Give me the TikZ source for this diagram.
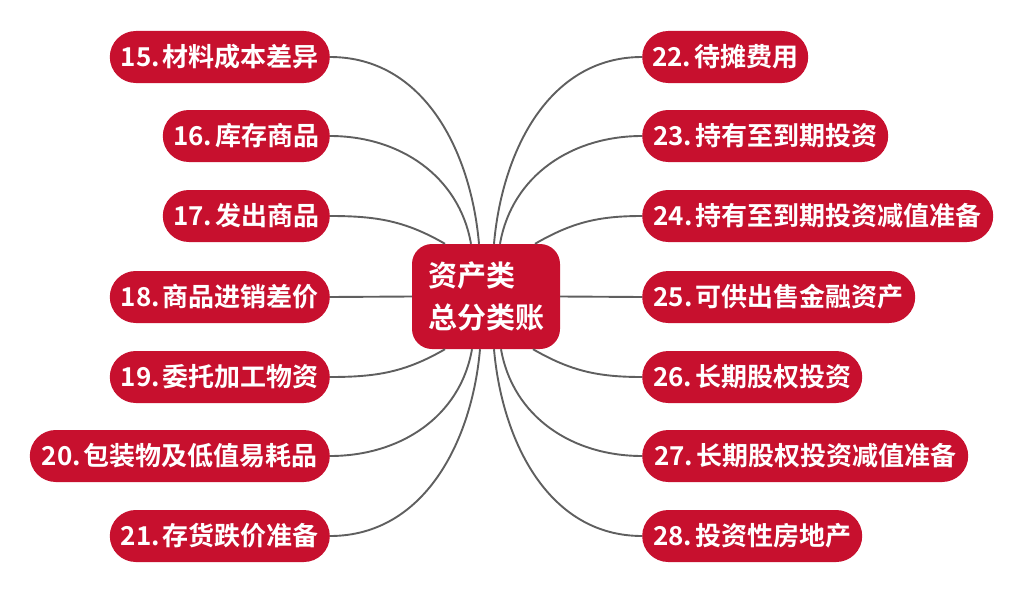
\documentclass[tikz,border=0pt]{standalone}
\usepackage{fontspec}
\newfontfamily\cjk{Noto Sans CJK SC}[BoldFont={Noto Sans CJK SC Bold}]
\definecolor{boxred}{RGB}{199,16,46}
\definecolor{linegray}{RGB}{95,95,95}
\begin{document}
\begin{tikzpicture}[x=1pt,y=-1pt,
  leaf/.style={fill=boxred, rounded corners=26pt, minimum height=52pt, inner sep=0pt,
    text=white, font=\cjk\bfseries\fontsize{26pt}{30pt}\selectfont},
  lleaf/.style={leaf, anchor=east},
  rleaf/.style={leaf, anchor=west},
  hub/.style={fill=boxred, rounded corners=20pt, minimum width=148pt, minimum height=105pt,
    text=white, align=left, inner sep=0pt, font=\cjk\bfseries\fontsize{29pt}{42pt}\selectfont},
  conn/.style={draw=linegray, line width=1.9pt}
]
\useasboundingbox (0,0) rectangle (1025,594);
\node[hub] (hub) at (486,296.5) {资产类\phantom{账}\\总分类账};

\node[lleaf, minimum width=220pt] (n15) at (330,57) {15.\hspace{3pt}材料成本差异};
\node[lleaf, minimum width=167pt] (n16) at (330,136) {16.\hspace{3pt}库存商品};
\node[lleaf, minimum width=167pt] (n17) at (330,216) {17.\hspace{3pt}发出商品};
\node[lleaf, minimum width=220pt] (n18) at (330,297) {18.\hspace{3pt}商品进销差价};
\node[lleaf, minimum width=220pt] (n19) at (330,377) {19.\hspace{3pt}委托加工物资};
\node[lleaf, minimum width=300pt] (n20) at (330,456) {20.\hspace{3pt}包装物及低值易耗品};
\node[lleaf, minimum width=220pt] (n21) at (330,536) {21.\hspace{3pt}存货跌价准备};

\node[rleaf, minimum width=166pt] (n22) at (642,57) {22.\hspace{3pt}待摊费用};
\node[rleaf, minimum width=246pt] (n23) at (642,136) {23.\hspace{3pt}持有至到期投资};
\node[rleaf, minimum width=351pt] (n24) at (642,216) {24.\hspace{3pt}持有至到期投资减值准备};
\node[rleaf, minimum width=273pt] (n25) at (642,297) {25.\hspace{3pt}可供出售金融资产};
\node[rleaf, minimum width=220pt] (n26) at (642,377) {26.\hspace{3pt}长期股权投资};
\node[rleaf, minimum width=326pt] (n27) at (642,456) {27.\hspace{3pt}长期股权投资减值准备};
\node[rleaf, minimum width=220pt] (n28) at (642,536) {28.\hspace{3pt}投资性房地产};

\draw[conn] (n15.east) to[out=0,in=95] ([xshift=-7pt]hub.north);
\draw[conn] (n16.east) to[out=0,in=100] ([xshift=-15pt]hub.north);
\draw[conn] (n17.east) to[out=0,in=150] ([xshift=-41pt]hub.north);
\draw[conn] (n18.east) -- (hub.west);
\draw[conn] (n19.east) to[out=0,in=210] ([xshift=-41pt]hub.south);
\draw[conn] (n20.east) to[out=0,in=260] ([xshift=-14pt]hub.south);
\draw[conn] (n21.east) to[out=0,in=265] ([xshift=-6pt]hub.south);

\draw[conn] (n22.west) to[out=180,in=85] ([xshift=8pt]hub.north);
\draw[conn] (n23.west) to[out=180,in=80] ([xshift=14pt]hub.north);
\draw[conn] (n24.west) to[out=180,in=30] ([xshift=49pt]hub.north);
\draw[conn] (n25.west) -- (hub.east);
\draw[conn] (n26.west) to[out=180,in=330] ([xshift=47pt]hub.south);
\draw[conn] (n27.west) to[out=180,in=280] ([xshift=15pt]hub.south);
\draw[conn] (n28.west) to[out=180,in=275] ([xshift=8pt]hub.south);
\end{tikzpicture}
\end{document}
